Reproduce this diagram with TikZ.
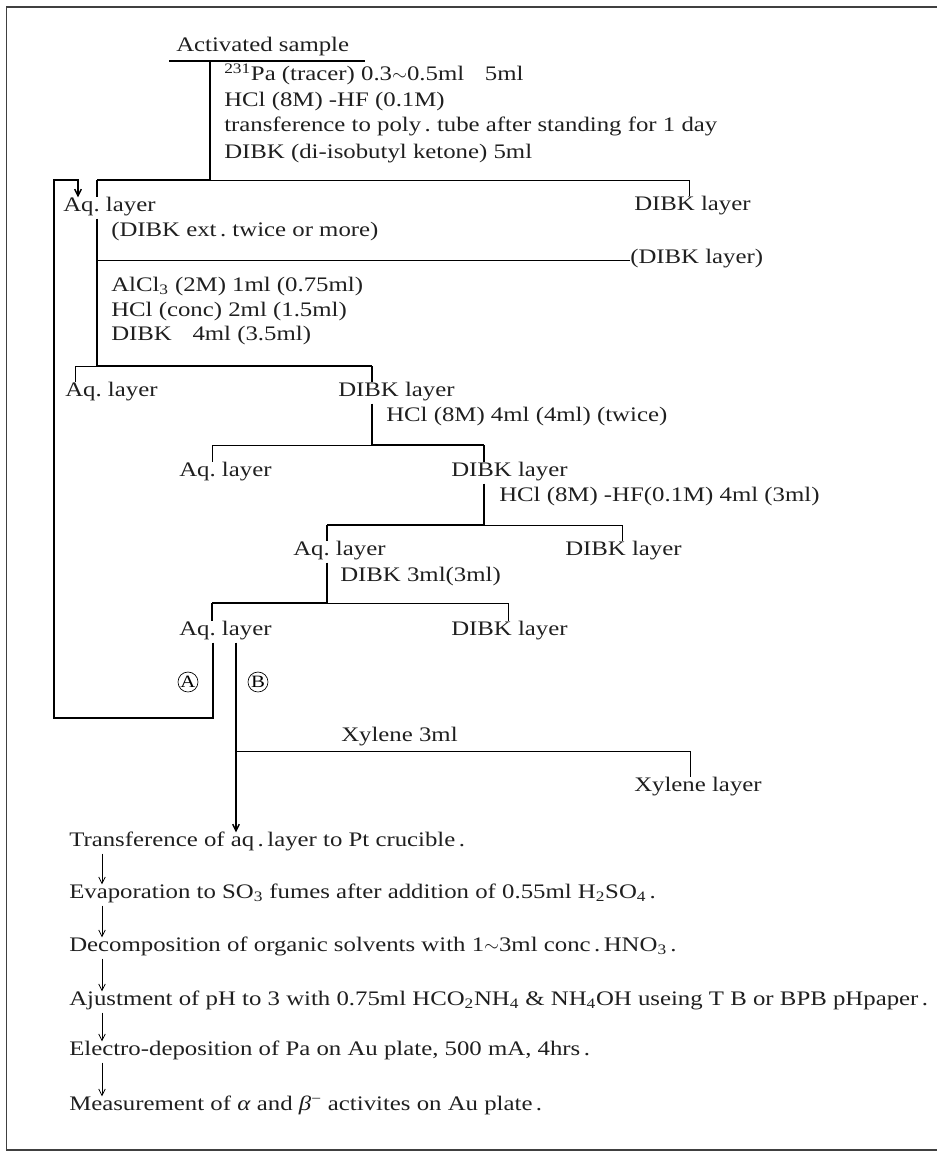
\documentclass[tikz,border=0pt]{standalone}
\usepackage{fontspec}
\setmainfont{Liberation Serif}[FakeStretch=1.2]
\usetikzlibrary{arrows.meta}
\newcommand\figfont{\fontsize{15.5pt}{18pt}\selectfont}
\begin{document}
\begin{tikzpicture}[x=0.75pt,y=-0.75pt,
  txt/.style={inner xsep=0pt, inner ysep=3.3pt, anchor=west, text height=0.68em, text depth=0.2em, font=\figfont, text=black!88},
  main/.style={line width=1.1pt},
  thk/.style={line width=1.8pt},
  thn/.style={line width=0.6pt},
  frame/.style={draw=black!75},
  arr/.style={-{Straight Barb[length=5pt,width=5pt]}},
  circ/.style={circle, draw, line width=0.5pt, inner sep=0pt, minimum size=15pt, font=\fontsize{13pt}{15pt}\selectfont}]
\useasboundingbox (0,0) rectangle (937,1153);
% frame
\draw[frame, line width=1.5pt] (6,7) -- (950,7);
\draw[frame, line width=0.6pt] (6,7) -- (6,1150);
\draw[frame, line width=1.5pt] (6,1150) -- (950,1150);
% texts
\node[txt] (act) at (176,48) {Activated sample};
\node[txt] (r1a) at (224,77) {\textsuperscript{231}Pa (tracer) 0.3$\sim$0.5ml\quad 5ml};
\node[txt] (r1b) at (224,103) {HCl (8M) -HF (0.1M)};
\node[txt] (r1c) at (224,128) {transference to poly\,.\ tube after standing for 1 day};
\node[txt] (r1d) at (224,155) {DIBK (di-isobutyl ketone) 5ml};
\node[txt] (aq1) at (63,208) {Aq.\ layer};
\node[txt] (dibk1) at (634,207) {DIBK layer};
\node[txt] (ext) at (111,233) {(DIBK ext\,.\ twice or more)};
\node[txt] (dibkp) at (630,260) {(DIBK layer)};
\node[txt] (r2a) at (111,288) {AlCl\textsubscript{3} (2M) 1ml (0.75ml)};
\node[txt] (r2b) at (111,313) {HCl (conc) 2ml (1.5ml)};
\node[txt] (r2c) at (111,337) {DIBK\quad 4ml (3.5ml)};
\node[txt] (aq2) at (65,393) {Aq.\ layer};
\node[txt] (dibk2) at (338,393) {DIBK layer};
\node[txt] (r3) at (386,418) {HCl (8M) 4ml (4ml) (twice)};
\node[txt] (aq3) at (179,473) {Aq.\ layer};
\node[txt] (dibk3) at (451,473) {DIBK layer};
\node[txt] (r4) at (499,498) {HCl (8M) -HF(0.1M) 4ml (3ml)};
\node[txt] (aq4) at (293,552) {Aq.\ layer};
\node[txt] (dibk4) at (565,552) {DIBK layer};
\node[txt] (r5) at (340,578) {DIBK 3ml(3ml)};
\node[txt] (aq5) at (179,632) {Aq.\ layer};
\node[txt] (dibk5) at (451,632) {DIBK layer};
\node[circ] (ca) at (188,682) {A};
\node[circ] (cb) at (258,682) {B};
\node[txt] (xy3) at (341,738) {Xylene 3ml};
\node[txt] (xyl) at (634,788) {Xylene layer};
\node[txt] (t1) at (69,843) {Transference of aq\,.\,layer to Pt crucible\,.};
\node[txt] (t2) at (69,895) {Evaporation to SO\textsubscript{3} fumes after addition of 0.55ml H\textsubscript{2}SO\textsubscript{4}\,.};
\node[txt] (t3) at (69,948) {Decomposition of organic solvents with 1$\sim$3ml conc\,.\,HNO\textsubscript{3}\,.};
\node[txt] (t4) at (69,1002) {Ajustment of pH to 3 with 0.75ml HCO\textsubscript{2}NH\textsubscript{4} \& NH\textsubscript{4}OH useing T B or BPB pHpaper\,.};
\node[txt] (t5) at (69,1052) {Electro-deposition of Pa on Au plate, 500 mA, 4hrs\,.};
\node[txt] (t6) at (69,1107) {Measurement of \textit{α} and \textit{β}\textsuperscript{−} activites on Au plate\,.};
% junction coordinates
\coordinate (u1) at (169,61); \coordinate (u2) at (365,61);
\coordinate (j0) at (210,61); \coordinate (j1) at (210,180);
\coordinate (h1L) at (97,180); \coordinate (h1R) at (689,180);
\coordinate (k1) at (97,260);
\coordinate (j2) at (97,366); \coordinate (j3) at (372,366); \coordinate (h3L) at (75,366);
\coordinate (j4) at (372,445); \coordinate (j5) at (484,445); \coordinate (h4L) at (212,445);
\coordinate (j6) at (484,525); \coordinate (j7) at (327,525); \coordinate (h5R) at (622,525);
\coordinate (j8) at (327,603); \coordinate (j9) at (212,603); \coordinate (h6R) at (508,603);
\coordinate (la) at (213,718); \coordinate (lb) at (54,718); \coordinate (lc) at (54,180); \coordinate (ld) at (78,180);
\coordinate (x1) at (236,751); \coordinate (x2) at (690,751);
% connectors
\draw[main] (u1) -- (u2);
\draw[main] (j0) -- (j1);
\draw[thk] (j1) -- (h1L);
\draw[thn] (j1) -- (h1R) -- (h1R |- dibk1.north);
\draw[main] (h1L) -- (h1L |- aq1.north);
\draw[main] (h1L |- aq1.south) -- (j2);
\draw[thn] (k1) -- (dibkp.west);
\draw[thk] (j2) -- (j3);
\draw[thn] (j2) -- (h3L) -- (h3L |- aq2.north);
\draw[main] (j3) -- (j3 |- dibk2.north);
\draw[main] (j3 |- dibk2.south) -- (j4);
\draw[thk] (j4) -- (j5);
\draw[thn] (j4) -- (h4L) -- (h4L |- aq3.north);
\draw[main] (j5) -- (j5 |- dibk3.north);
\draw[main] (j5 |- dibk3.south) -- (j6);
\draw[thk] (j6) -- (j7);
\draw[thn] (j6) -- (h5R) -- (h5R |- dibk4.north);
\draw[main] (j7) -- (j7 |- aq4.north);
\draw[main] (j7 |- aq4.south) -- (j8);
\draw[thk] (j8) -- (j9);
\draw[thn] (j8) -- (h6R) -- (h6R |- dibk5.north);
\draw[main] (j9) -- (j9 |- aq5.north);
\draw[main, arr] (la |- aq5.south) -- (la) -- (lb) -- (lc) -- (ld) -- (ld |- aq1.north);
\draw[main, arr] (x1 |- aq5.south) -- (x1 |- t1.north);
\draw[thn] (x1) -- (x2) -- (x2 |- xyl.north);
\foreach \a/\b in {t1/t2,t2/t3,t3/t4,t4/t5,t5/t6}
  \draw[thn, arr] (102,0 |- \a.south) -- (102,0 |- \b.north);
\end{tikzpicture}
\end{document}
